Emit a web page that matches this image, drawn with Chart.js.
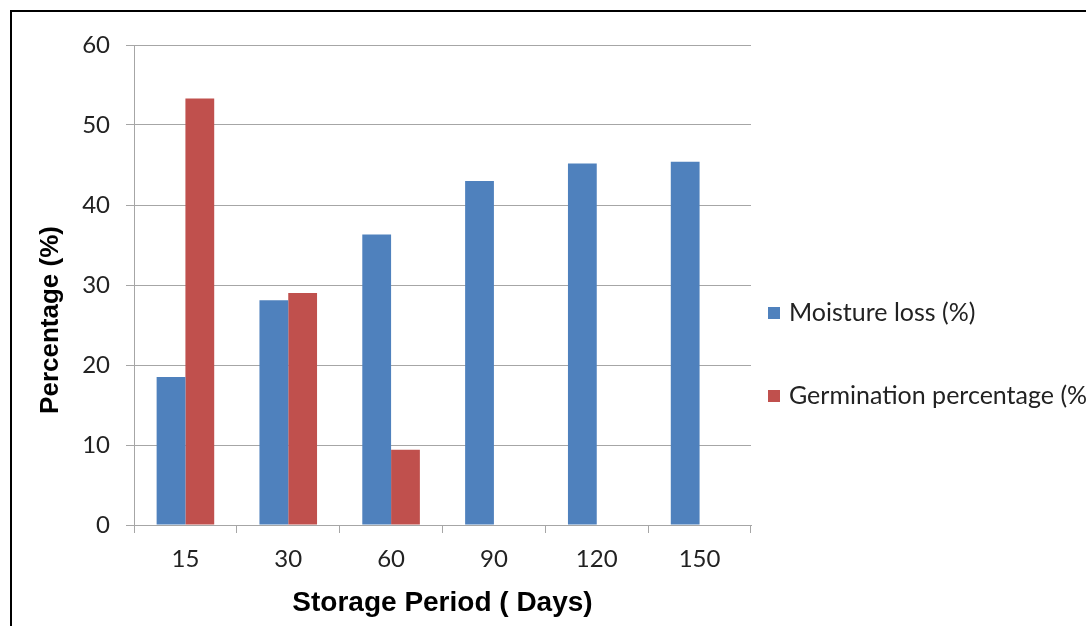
<!DOCTYPE html>
<html>
<head>
<meta charset="utf-8">
<script src="https://cdn.jsdelivr.net/npm/chart.js@4"></script>
<style>
  html, body { margin: 0; padding: 0; background: #fff; }
  #wrap { width: 1086px; height: 626px; position: relative; }
</style>
</head>
<body>
<div id="wrap"><canvas id="barChart"></canvas></div>
<script>
var days = ['15', '30', '60', '90', '120', '150'];
var moistureLoss = [18.5, 28.1, 36.3, 43.0, 45.2, 45.4];
var germination = [53.3, 29.0, 9.4, null, null, null];
var yTicks = [0, 10, 20, 30, 40, 50, 60];

var seriesNames = ['Moisture loss (%)', 'Germination percentage (%)'];
var seriesColors = ['#4f81bd', '#c0504d'];
var gridColor = '#a6a6a6';
var textColor = '#222';
var labelFont = 'Lato';

// frame, y title and legend are drawn by hand like the excel export
var extras = {
    id: 'extras',
    afterDraw: function (chart) {
        var ctx = chart.ctx;
        ctx.save();
        ctx.strokeStyle = '#000';
        ctx.lineWidth = 2;
        ctx.beginPath();
        ctx.moveTo(11, chart.height);
        ctx.lineTo(11, 11);
        ctx.lineTo(chart.width, 11);
        ctx.stroke();

        ctx.fillStyle = '#000';
        ctx.font = 'bold 26px "Liberation Sans"';
        ctx.textAlign = 'center';
        ctx.textBaseline = 'middle';
        ctx.translate(51, 320);
        ctx.rotate(-Math.PI / 2);
        ctx.fillText('Percentage (%)', 0, 0);
        ctx.restore();

        ctx.save();
        ctx.font = '25px ' + labelFont;
        ctx.textAlign = 'left';
        ctx.textBaseline = 'middle';
        for (var i = 0; i < seriesNames.length; i++) {
            var y = 313 + i * 83;
            ctx.fillStyle = seriesColors[i];
            ctx.fillRect(768, y - 6, 12, 12);
            ctx.fillStyle = textColor;
            ctx.fillText(seriesNames[i], 789, y);
        }
        ctx.restore();
    }
};

var data = {
    labels: days,
    datasets: [{
        label: seriesNames[0],
        data: moistureLoss,
        backgroundColor: seriesColors[0],
        categoryPercentage: 0.56,
        barPercentage: 1.0
    }, {
        label: seriesNames[1],
        data: germination,
        backgroundColor: seriesColors[1],
        categoryPercentage: 0.56,
        barPercentage: 1.0
    }]
};

var config = {
    type: 'bar',
    data: data,
    options: {
        responsive: true,
        maintainAspectRatio: false,
        animation: false,
        layout: { padding: { top: 45, right: 335, left: 0, bottom: 0 } },
        plugins: {
            legend: { display: false },
            tooltip: { enabled: false }
        },
        scales: {
            x: {
                afterFit: function (s) { s.height = 101; },
                grid: {
                    drawOnChartArea: false,
                    drawTicks: true,
                    tickLength: 8,
                    color: gridColor
                },
                border: { color: gridColor },
                ticks: {
                    padding: 12,
                    color: textColor,
                    font: { family: labelFont, size: 24 }
                },
                title: {
                    display: true,
                    text: 'Storage Period ( Days)',
                    color: '#000',
                    font: { family: 'Liberation Sans', weight: 'bold', size: 28 },
                    padding: { top: 0, bottom: 6 }
                }
            },
            y: {
                min: yTicks[0],
                max: yTicks[yTicks.length - 1],
                afterFit: function (s) { s.width = 134; },
                grid: {
                    color: gridColor,
                    tickLength: 8
                },
                border: { color: gridColor },
                ticks: {
                    stepSize: yTicks[1] - yTicks[0],
                    padding: 16,
                    color: textColor,
                    font: { family: labelFont, size: 24 }
                }
            }
        }
    },
    plugins: [extras]
};

var barChart = new Chart(document.getElementById('barChart'), config);
</script>
</body>
</html>
